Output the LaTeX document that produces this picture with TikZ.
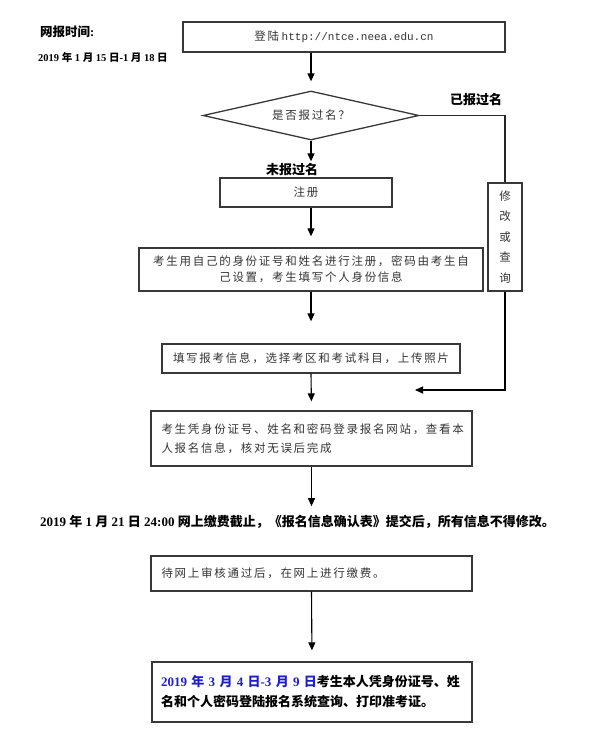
\documentclass[tikz,border=0pt]{standalone}
\usepackage{fontspec}
\setmainfont{Liberation Serif}
\setmonofont{Liberation Mono}
\newfontfamily\cjk{Noto Sans CJK SC}
\newfontfamily\cjkls[LetterSpace=15]{Noto Sans CJK SC}
\usetikzlibrary{shapes.geometric,arrows.meta}
\newcommand\zh[1]{{\cjk #1}}
\definecolor{dateblue}{RGB}{30,30,205}
\begin{document}
\begin{tikzpicture}[x=1pt,y=-1pt,
  box/.style={draw=black!78,line width=1.3pt,inner sep=0pt,text=black!80},
  arr/.style={-{Triangle[length=8pt,width=7pt]},line width=1.1pt},
  ln/.style={line width=1.1pt,draw=black!85},
  body/.style={font=\fontsize{11.5}{15.7}\selectfont\cjkls},
  lbl/.style={font=\fontsize{13}{16}\selectfont\cjk\bfseries,inner sep=0pt}]
\useasboundingbox (0,0) rectangle (605,755);

\node[box,minimum width=322pt,minimum height=30pt] (top) at (344,37)
  {{\cjkls\fontsize{11.5}{14}\selectfont 登陆} {\ttfamily\fontsize{11}{14}\selectfont http://ntce.neea.edu.cn}};
\node[box,diamond,shape aspect=4.4,minimum width=216pt,minimum height=49pt,body] (dia) at (311,115.5) {是否报过名？};
\node[box,minimum width=172pt,minimum height=29pt,body] (zhuce) at (306,192.5) {注册};
\node[box,minimum width=344pt,minimum height=43pt,body,align=center] (b2) at (311,269.5)
  {考生用自己的身份证号和姓名进行注册，密码由考生自\\己设置，考生填写个人身份信息};
\node[box,minimum width=298pt,minimum height=29pt,body] (b3) at (311,358.5) {填写报考信息，选择考区和考试科目，上传照片};
\node[box,minimum width=321pt,minimum height=55pt,text width=300pt,align=left,
  font=\fontsize{11.5}{19}\selectfont\cjkls] (b4) at (311.5,438.5)
  {考生凭身份证号、姓名和密码登录报名网站，查看本\\人报名信息，核对无误后完成};
\node[lbl,font=\fontsize{13}{16}\selectfont\rmfamily\bfseries] (dl) at (297.5,522)
  {2019 \zh{年} 1 \zh{月} 21 \zh{日} 24:00 \zh{网上缴费截止，《报名信息确认表》提交后，所有信息不得修改。}};
\node[box,minimum width=321pt,minimum height=35pt,body,text width=300pt,align=left] (b5) at (311.5,573.5)
  {待网上审核通过后，在网上进行缴费。};
\node[box,minimum width=320pt,minimum height=60pt,text width=302pt,align=left,text=black,
  font=\fontsize{13}{20}\selectfont\rmfamily\bfseries] (b6) at (312,692)
  {\textcolor{dateblue}{2019 \zh{年} 3 \zh{月} 4 \zh{日}-3 \zh{月} 9 \zh{日}}\zh{考生本人凭身份证号、姓}\\
   \zh{名和个人密码登陆报名系统查询、打印准考证。}};
\node[box,minimum width=34pt,minimum height=108pt,align=center,
  font=\fontsize{11.5}{20.5}\selectfont\cjk] (xg) at (505,237) {修\\改\\或\\查\\询};

\node[lbl,anchor=west,font=\fontsize{12.5}{15}\selectfont\rmfamily\bfseries] (wb) at (40,32) {\zh{网报时间}:};
\node[lbl,anchor=west,font=\fontsize{10.5}{13}\selectfont\rmfamily\bfseries] (d1) at (38,57)
  {2019 \zh{年} 1 \zh{月} 15 \zh{日}-1 \zh{月} 18 \zh{日}};
\node[lbl] (ybg) at (476,100) {已报过名};
\node[lbl] (wbg) at (292,170) {未报过名};
\coordinate (ret) at (415,390);

\draw[arr,shorten >=9pt] (dia.north |- top.south) -- (dia.north);
\draw[arr,shorten >=16pt] (dia.south) -- (dia.south |- zhuce.north);
\draw[arr,shorten >=11pt] (b2.north |- zhuce.south) -- (b2.north);
\draw[arr,shorten >=22pt] (b2.south) -- (b3.north);
\draw[arr,shorten >=9pt] (b3.south) -- (b4.north);
\draw[arr,shorten >=9pt] (b4.south) -- (b4.south |- dl.north);
\draw[arr,shorten >=11pt] (b5.south) -- (b6.north);
\draw[ln] (dia.east) -| (xg.north);
\draw[arr] (xg.south) |- (ret);
\end{tikzpicture}
\end{document}
